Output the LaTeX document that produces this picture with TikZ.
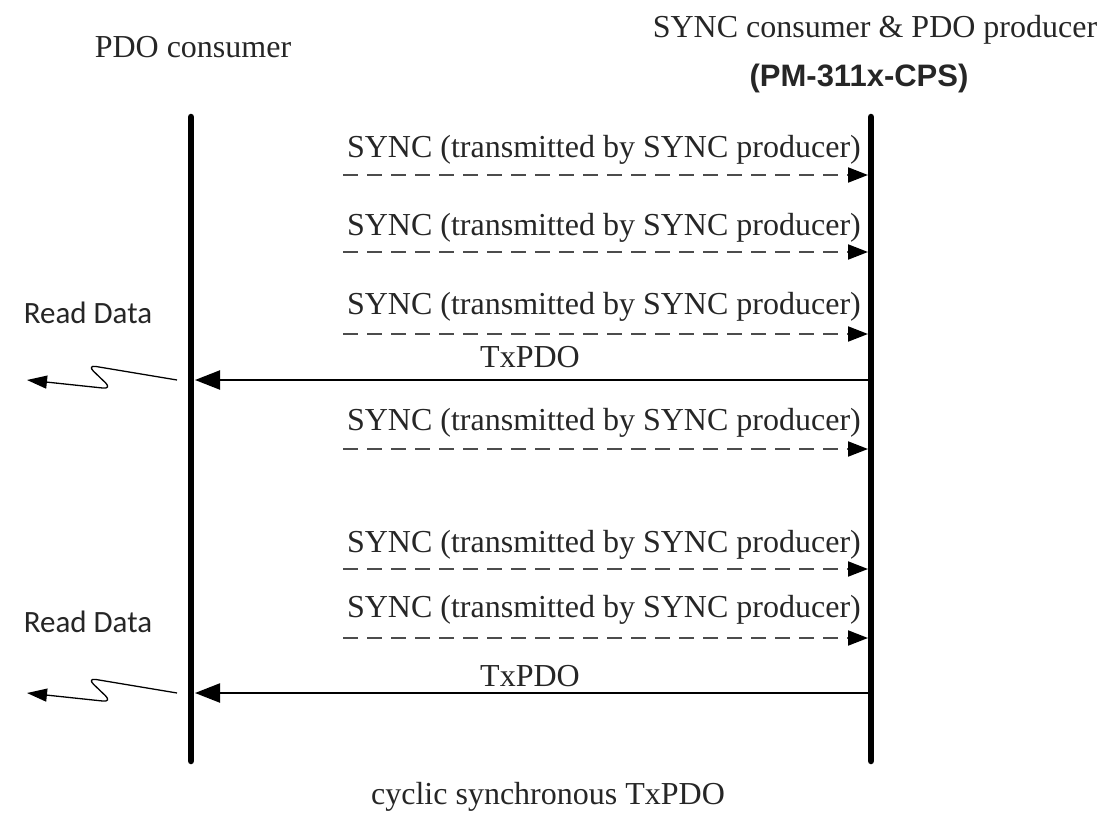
\documentclass[tikz,border=0pt]{standalone}
\usepackage{fontspec}
\setmainfont{Liberation Serif}
\newfontfamily\arialfont{Liberation Sans}
\newfontfamily\calfont{Carlito}
\usetikzlibrary{arrows.meta}
\begin{document}
\begin{tikzpicture}[x=1pt,y=-1pt,
  lbl/.style={font=\fontsize{32}{36}\selectfont, inner sep=0pt, text=black!85},
  rdlbl/.style={font=\calfont\fontsize{31}{36}\selectfont, inner sep=0pt, text=black!85},
  life/.style={line width=6.5pt, line cap=round},
  syncarrow/.style={draw=black!70, line width=2pt, dash pattern=on 15pt off 9pt, -{Triangle[length=20pt,width=15pt,black]}},
  pdoarrow/.style={draw=black, line width=2.2pt, -{Triangle[length=25pt,width=19pt]}},
  zig/.style={draw=black, line width=1.3pt, rounded corners=9pt, -{Triangle[length=20pt,width=13pt]}}]
\useasboundingbox (0,0) rectangle (1105,821);
% lifelines
\coordinate (LT) at (191,117);
\coordinate (LB) at (191,761);
\coordinate (RT) at (871,117);
\coordinate (RB) at (871,761);
\draw[life] (LT) -- (LB);
\draw[life] (RT) -- (RB);
% headers
\node[lbl] (pdoc) at (193,47) {PDO consumer};
\node[lbl] (syncc) at (875,30) {SYNC consumer \& PDO producer};
\node[lbl, font=\arialfont\bfseries\fontsize{31}{36}\selectfont] (pm) at (859,78) {(PM-311x-CPS)};
\node[lbl] (cyc) at (548,797) {cyclic synchronous TxPDO};
% SYNC messages
\foreach \i/\ya/\yl in {1/175/150, 2/252/228, 3/334/307, 4/449/423, 5/569/545, 6/638/610} {
  \coordinate (s\i a) at (343,\ya);
  \coordinate (s\i b) at (868,\ya);
  \node[lbl, anchor=east] (s\i l) at (861,\yl) {SYNC (transmitted by SYNC producer)};
  \draw[syncarrow] (s\i a) -- (s\i b);
}
% TxPDO messages
\foreach \i/\ya/\yl in {1/380/357, 2/693/676} {
  \coordinate (t\i a) at (868,\ya);
  \coordinate (t\i b) at (195,\ya);
  \node[lbl] (t\i l) at (530,\yl) {TxPDO};
  \draw[pdoarrow] (t\i a) -- (t\i b);
}
% Read Data
\node[rdlbl] (rd1) at (88,313) {Read Data};
\node[rdlbl] (rd2) at (88,622) {Read Data};
\foreach \i/\y in {1/380, 2/693} {
  \coordinate (z\i s) at (177,\y);
  \coordinate (z\i e) at (27,\y);
  \draw[zig] (z\i s) -- ++(-90,-15) -- ++(25,24) -- (z\i e);
}
\end{tikzpicture}
\end{document}
